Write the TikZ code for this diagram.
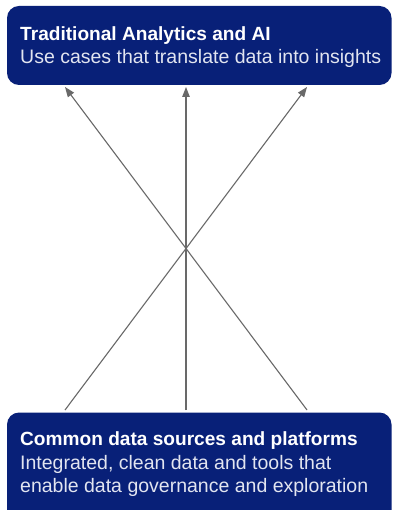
\documentclass[tikz,border=0pt]{standalone}
\usepackage{fontspec}
\setmainfont{Liberation Sans}
\usetikzlibrary{arrows.meta}
\definecolor{navy}{RGB}{8,32,120}
\definecolor{subtxt}{RGB}{226,229,240}
\definecolor{linegray}{RGB}{105,105,105}
\tikzset{
  box/.style={fill=navy, rounded corners=12pt, draw=none},
  ttl/.style={anchor=base west, inner sep=0pt, text=white, font=\fontsize{19.1pt}{23pt}\selectfont\bfseries},
  sub/.style={anchor=base west, inner sep=0pt, text=subtxt, font=\fontsize{19.5pt}{23pt}\selectfont},
  conn/.style={draw=linegray, line width=1.1pt, -{Triangle[length=10pt,width=7.5pt]}}
}
\begin{document}
\begin{tikzpicture}[x=1pt,y=-1pt]
\useasboundingbox (0,0) rectangle (392,510);
\fill[white] (0,0) rectangle (392,510);
% boxes
\path[box] (7,6) rectangle (391.5,85);
\path[box] (7,412.5) rectangle (391.5,530);
\node[ttl] (t1) at (20,40.5) {Traditional Analytics and AI};
\node[sub] (t2) at (20,64) {Use cases that translate data into insights};
\node[ttl] (b1) at (20,445.5) {Common data sources and platforms};
\node[sub] (b2) at (20,469.5) {Integrated, clean data and tools that};
\node[sub] (b3) at (20,492.5) {enable data governance and exploration};
% connector ends
\coordinate (tl) at (65,87);
\coordinate (tm) at (186,87);
\coordinate (tr) at (307,87);
\coordinate (bl) at (65,410);
\coordinate (bm) at (186,410);
\coordinate (br) at (307,410);
\draw[conn] (bl) -- (tr);
\draw[conn] (bm) -- (tm);
\draw[conn] (br) -- (tl);
\end{tikzpicture}
\end{document}
